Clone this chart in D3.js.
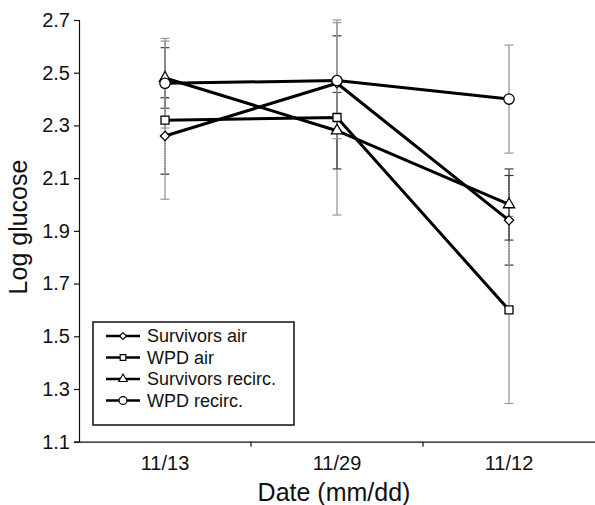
<!DOCTYPE html>
<html>
<head>
<meta charset="utf-8">
<script src="https://cdn.jsdelivr.net/npm/d3@7"></script>
<style>
  body { margin: 0; background: #fff; }
  text { font-family: "Liberation Sans", Arial, sans-serif; fill: #111; }
</style>
</head>
<body>
<script>
var width = 595,
    height = 505;

var dates = ["11/13", "11/29", "11/12"];
var seriesNames = ["Survivors air", "WPD air", "Survivors recirc.", "WPD recirc."];
var survAir = [2.26, 2.46, 1.94];
var survAirErr = [0.145, 0.18, 0.17];
var wpdAir = [2.32, 2.33, 1.60];
var wpdAirErr = [0.30, 0.37, 0.355];
var survRecirc = [2.48, 2.28, 2.00];
var survRecircErr = [0.115, 0.145, 0.135];
var wpdRecirc = [2.46, 2.47, 2.40];
var wpdRecircErr = [0.17, 0.22, 0.205];
var yTicks = [1.1, 1.3, 1.5, 1.7, 1.9, 2.1, 2.3, 2.5, 2.7];

var series = [
    {name: seriesNames[0], values: survAir, err: survAirErr, shape: "diamond", bar: "#333", dash: "1.5,1"},
    {name: seriesNames[1], values: wpdAir, err: wpdAirErr, shape: "square", bar: "#999", dash: null},
    {name: seriesNames[2], values: survRecirc, err: survRecircErr, shape: "triangle", bar: "#444", dash: null},
    {name: seriesNames[3], values: wpdRecirc, err: wpdRecircErr, shape: "circle", bar: "#999", dash: null}
];

var svg = d3.select("body").append("svg")
    .attr("width", width)
    .attr("height", height);

var x = d3.scaleBand().domain(dates).range([79, 595]);
var y = d3.scaleLinear().domain([1.1, 2.7]).range([441.7, 20]);
var cx = function (d) { return x(d) + x.bandwidth() / 2; };

// axes
var yAxis = svg.append("g")
    .attr("transform", "translate(79,0)")
    .call(d3.axisLeft(y).tickValues(yTicks).tickSize(5).tickFormat(d3.format(".1f")));
yAxis.select(".domain").attr("stroke", "#111").attr("stroke-width", 1.2);
yAxis.selectAll(".tick line").attr("stroke", "#111").attr("stroke-width", 1.2);
yAxis.selectAll(".tick text").attr("x", -9).style("font-size", "20px");

var xAxis = svg.append("g")
    .attr("transform", "translate(0,441.7)")
    .call(d3.axisBottom(x).tickSize(0).tickPadding(14));
xAxis.select(".domain").attr("stroke", "#111").attr("stroke-width", 1.2);
xAxis.selectAll(".tick text").style("font-size", "20px");
xAxis.selectAll(".sep")
    .data(dates.slice(1))
    .enter().append("line")
    .attr("class", "sep")
    .attr("x1", function (d) { return x(d); })
    .attr("x2", function (d) { return x(d); })
    .attr("y1", 0).attr("y2", 5)
    .attr("stroke", "#111").attr("stroke-width", 1.2);

svg.append("text")
    .attr("x", 334).attr("y", 501)
    .attr("text-anchor", "middle")
    .style("font-size", "25px")
    .text("Date (mm/dd)");

svg.append("text")
    .attr("transform", "translate(27,227) rotate(-90)")
    .attr("text-anchor", "middle")
    .style("font-size", "25px")
    .text("Log glucose");

// error bars
series.forEach(function (s) {
    var g = svg.append("g");
    dates.forEach(function (d, i) {
        var top = y(s.values[i] + s.err[i]), bot = y(s.values[i] - s.err[i]);
        var px = cx(d);
        g.append("line")
            .attr("x1", px).attr("x2", px).attr("y1", top).attr("y2", bot)
            .attr("stroke", s.bar).attr("stroke-width", 1.3)
            .attr("stroke-dasharray", s.dash);
        [top, bot].forEach(function (yy) {
            g.append("line")
                .attr("x1", px - 4.5).attr("x2", px + 4.5).attr("y1", yy).attr("y2", yy)
                .attr("stroke", s.bar).attr("stroke-width", 1.2);
        });
    });
});

// lines
var line = d3.line()
    .x(function (d, i) { return cx(dates[i]); })
    .y(function (d) { return y(d); });

series.forEach(function (s) {
    svg.append("path")
        .datum(s.values)
        .attr("d", line)
        .attr("fill", "none")
        .attr("stroke", "#000")
        .attr("stroke-width", 3);
});

var symbols = {
    diamond: d3.symbol().type(d3.symbolDiamond2).size(55),
    square: d3.symbol().type(d3.symbolSquare).size(64),
    triangle: d3.symbol().type(d3.symbolTriangle).size(55),
    circle: d3.symbol().type(d3.symbolCircle).size(85)
};
var legSymbols = {
    diamond: d3.symbol().type(d3.symbolDiamond2).size(30),
    square: d3.symbol().type(d3.symbolSquare).size(32),
    triangle: d3.symbol().type(d3.symbolTriangle).size(32),
    circle: d3.symbol().type(d3.symbolCircle).size(48)
};

series.forEach(function (s) {
    svg.selectAll(".m-" + s.shape)
        .data(s.values)
        .enter().append("path")
        .attr("class", "m-" + s.shape)
        .attr("d", symbols[s.shape])
        .attr("transform", function (d, i) {
            return "translate(" + cx(dates[i]) + "," + y(d) + ")";
        })
        .attr("fill", "#fff")
        .attr("stroke", "#000")
        .attr("stroke-width", 1.3);
});

// legend
var legend = svg.append("g").attr("transform", "translate(93,322)");
legend.append("rect")
    .attr("width", 201).attr("height", 103)
    .attr("fill", "#fff").attr("stroke", "#111").attr("stroke-width", 1.5);

var row = legend.selectAll(".row")
    .data(series)
    .enter().append("g")
    .attr("class", "row")
    .attr("transform", function (d, i) { return "translate(0," + (14 + i * 21.5) + ")"; });

row.append("line")
    .attr("x1", 13).attr("x2", 47).attr("y1", 0).attr("y2", 0)
    .attr("stroke", "#000").attr("stroke-width", 2.5);
row.append("path")
    .attr("d", function (d) { return legSymbols[d.shape](); })
    .attr("transform", "translate(30,0)")
    .attr("fill", "#fff").attr("stroke", "#000").attr("stroke-width", 1.1);
row.append("text")
    .attr("x", 54).attr("y", 6)
    .style("font-size", "18px")
    .text(function (d) { return d.name; });
</script>
</body>
</html>
